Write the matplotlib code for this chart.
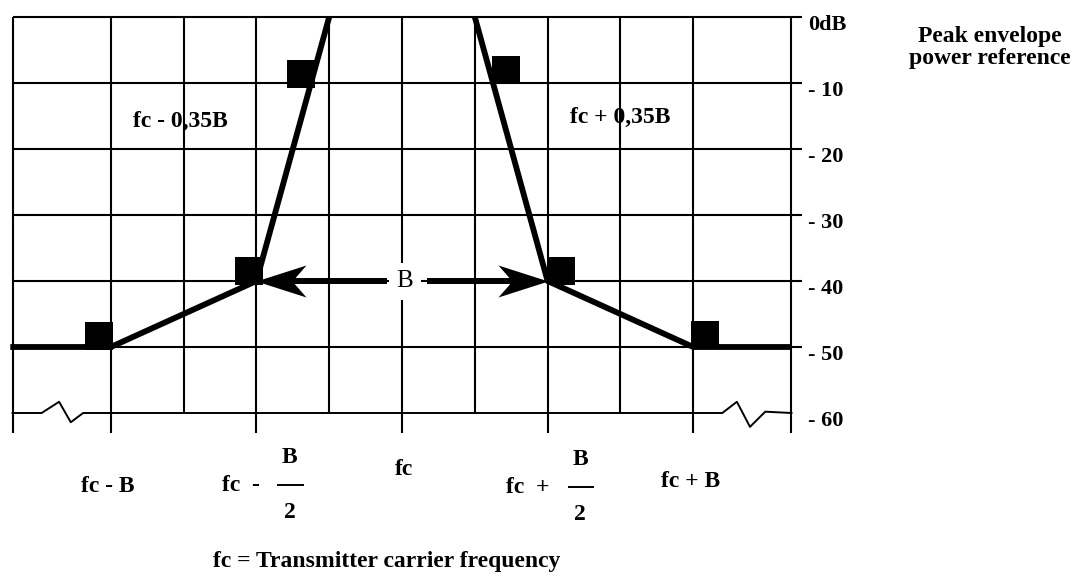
import matplotlib
matplotlib.use('Agg')
import matplotlib.pyplot as plt

# grid columns (fc at 0, one unit = B/4) and dB rows
grid_x = [-5.35, -4, -3, -2, -1, 0, 1, 2, 3, 4, 5.35]
grid_bottom = [-63, -63, -60, -63, -60, -63, -60, -63, -60, -63, -63]
db_levels = [0, -10, -20, -30, -40, -50, -60]
db_labels = ['0dB', '- 10', '- 20', '- 30', '- 40', '- 50', '- 60']

# spectrum mask, lower and upper side
mask_lo_x = [-5.38, -4, -2, -1]
mask_lo_db = [-50, -50, -40, 0]
mask_hi_x = [1, 2, 4, 5.35]
mask_hi_db = [0, -40, -50, -50]

# measurement points (black squares)
sq_x = [-4.16, -2.10, -1.39, 1.43, 2.18, 4.16]
sq_db = [-48.3, -38.5, -8.6, -8.1, -38.5, -48.2]

# -60 dB row with the axis-break zigzags
row60_x = [-5.35, -4.95, -4.71, -4.55, -4.38, 4.40, 4.60, 4.78, 4.99, 5.35]
row60_db = [-60, -60, -58.3, -61.4, -60, -60, -58.3, -62.1, -59.8, -60]

# pixel mapping of the original drawing
X0, XU = 402, 72.8     # px of fc, px per unit
Y0, YU = 17, 6.6       # px of 0 dB, px per dB
W, H = 1088, 572

plt.rcParams['font.family'] = ['Liberation Serif', 'DejaVu Serif']

fig = plt.figure(figsize=(W / 100, H / 100), dpi=100)
ax = fig.add_axes([0, 0, 1, 1])
ax.set_xlim(-X0 / XU, (W - X0) / XU)
ax.set_ylim((Y0 - H) / YU, Y0 / YU)
ax.axis('off')

# grid
ax.vlines(grid_x, grid_bottom, 0, colors='black', lw=1.5, zorder=1)
ax.hlines(db_levels[:-1], grid_x[0], 5.5, colors='black', lw=1.5, zorder=1)
ax.plot(row60_x, row60_db, color='black', lw=1.4, zorder=1)

# mask and points
ax.plot(mask_lo_x, mask_lo_db, color='black', lw=4.2, solid_capstyle='butt', zorder=3)
ax.plot(mask_hi_x, mask_hi_db, color='black', lw=4.2, solid_capstyle='butt', zorder=3)
ax.plot(sq_x, sq_db, 's', color='black', ms=19.5, mew=0, zorder=3)

# bandwidth arrows
head = [(0, 0), (1, 0.32), (0.72, 0), (1, -0.32)]
head_r = [(-x, y) for x, y in head]
ax.plot([-0.21, -1.6], [-40, -40], color='black', lw=4.3, solid_capstyle='butt', zorder=4)
ax.plot([0.34, 1.6], [-40, -40], color='black', lw=4.3, solid_capstyle='butt', zorder=4)
ax.plot(mask_lo_x[2], mask_lo_db[2], marker=head, color='black', ms=72, mew=0, zorder=5)
ax.plot(mask_hi_x[1], mask_hi_db[1], marker=head_r, color='black', ms=72, mew=0, zorder=5)
ax.text(0.04, -40, 'B', ha='center', va='center', fontsize=18, zorder=4,
        bbox=dict(boxstyle='square,pad=0.3', fc='white', ec='none'))

# right-hand dB labels
for lvl, lab in zip(db_levels, db_labels):
    ax.text(5.58, lvl - 1.9, lab, ha='left', va='baseline', fontsize=16, fontweight='bold')

ax.text(8.08, -3.8, 'Peak envelope', ha='center', va='baseline', fontsize=17, fontweight='bold')
ax.text(8.08, -7.1, 'power reference', ha='center', va='baseline', fontsize=17, fontweight='bold')

# labels inside the grid
ax.text(-3.04, -16.7, 'fc - 0,35B', ha='center', va='baseline', fontsize=17, fontweight='bold')
ax.text(3.0, -16.1, 'fc + 0,35B', ha='center', va='baseline', fontsize=17, fontweight='bold')

# frequency labels under the grid
bold = dict(ha='center', va='baseline', fontsize=17, fontweight='bold')
ax.text(-4.04, -72.0, 'fc - B', **bold)
ax.text(-2.21, -71.8, 'fc  -', **bold)
ax.text(-1.54, -67.6, 'B', **bold)
ax.plot([-1.70, -1.36], [-70.9, -70.9], color='black', lw=1.4)
ax.text(-1.54, -75.9, '2', **bold)
ax.text(0.03, -69.4, 'fc', **bold)
ax.text(1.73, -72.1, 'fc  +', **bold)
ax.text(2.45, -67.9, 'B', **bold)
ax.plot([2.29, 2.62], [-71.2, -71.2], color='black', lw=1.4)
ax.text(2.45, -76.2, '2', **bold)
ax.text(3.96, -71.2, 'fc + B', **bold)

ax.text(-0.21, -83.3, 'fc = Transmitter carrier frequency', **bold)

plt.savefig('out.png', dpi=100)
plt.close()
